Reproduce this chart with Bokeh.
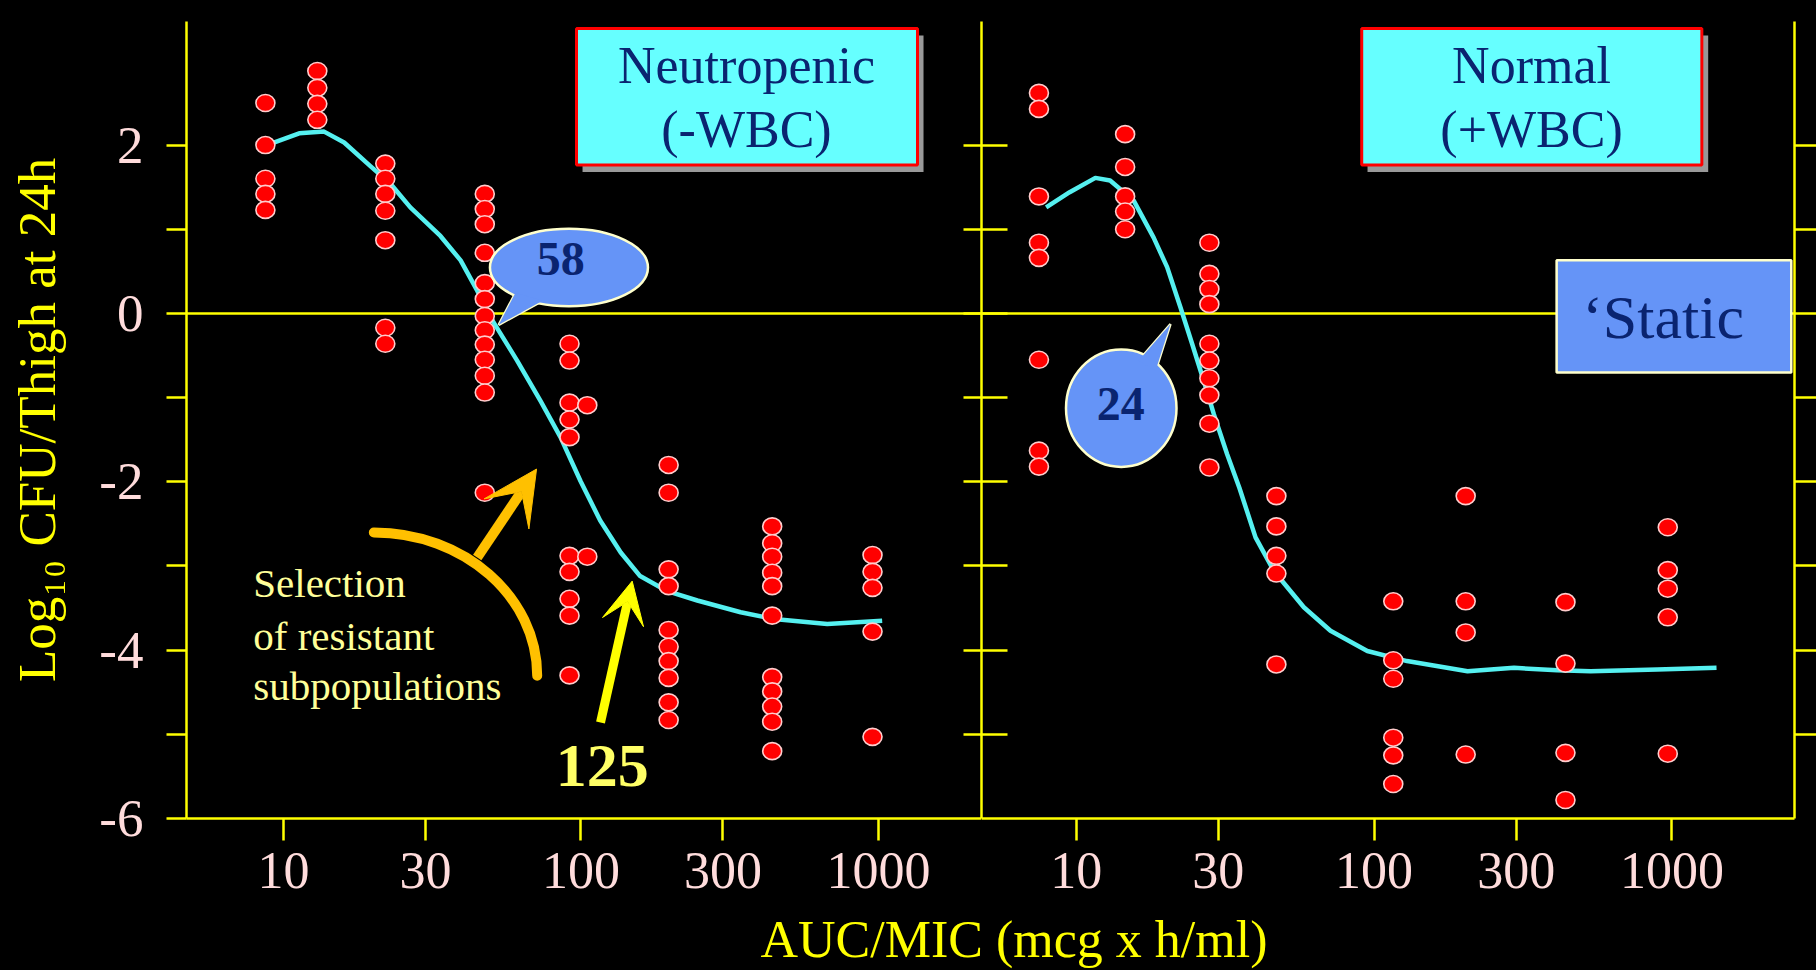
from bokeh.plotting import figure
from bokeh.layouts import column, row
from bokeh.models import Range1d, FixedTicker, LinearAxis, Span, Arrow, VeeHead
from bokeh.core.properties import value
from bokeh.embed import file_html
from bokeh.resources import INLINE

SERIF = "Liberation Serif"
YELLOW = "#FFFF00"
PINK = "#FFDCDC"
NAVY = "#0A2470"
CYAN_BOX = "#66FFFF"
CALLOUT = "#6594F7"
PALE = "#FFFFCC"
CURVE = "#55F0F0"
ORANGE = "#FFC000"

# ---------------- data ----------------
x_ticks = [10, 30, 100, 300, 1000]
x_tick_labels = ["10", "30", "100", "300", "1000"]
y_ticks = [-6, -4, -2, 0, 2]
y_tick_labels = ["-6", "-4", "-2", "0", "2"]
y_minor_ticks = [-5, -3, -1, 1]
y_side_ticks = [-5, -4, -3, -2, -1, 0, 1, 2]

neutro_auc_cols = [8.7, 13, 22, 47.5, 91.5, 105, 197, 439, 954]
neutro_cfu_cols = [
    [2.50, 2.00, 1.60, 1.42, 1.23],
    [2.88, 2.68, 2.49, 2.30],
    [1.78, 1.60, 1.42, 1.22, 0.87, -0.17, -0.36],
    [1.42, 1.24, 1.06, 0.72, 0.36, 0.17, -0.03, -0.20, -0.37, -0.55, -0.74, -0.94, -2.13],
    [-0.36, -0.56, -1.06, -1.26, -1.47, -2.88, -3.07, -3.39, -3.59, -4.30],
    [-1.09, -2.89],
    [-1.80, -2.13, -3.04, -3.24, -3.76, -3.96, -4.13, -4.33, -4.62, -4.83],
    [-2.53, -2.73, -2.89, -3.08, -3.24, -3.59, -4.32, -4.49, -4.67, -4.85, -5.20],
    [-2.87, -3.07, -3.26, -3.78, -5.03],
]
normal_auc_cols = [7.5, 14.6, 28, 47, 116, 203, 439, 968]
normal_cfu_cols = [
    [2.62, 2.43, 1.39, 0.84, 0.66, -0.55, -1.63, -1.82],
    [2.13, 1.74, 1.39, 1.21, 1.00],
    [0.84, 0.47, 0.29, 0.11, -0.36, -0.56, -0.77, -0.97, -1.31, -1.83],
    [-2.17, -2.53, -2.88, -3.09, -4.17],
    [-3.42, -4.12, -4.34, -5.04, -5.25, -5.59],
    [-2.17, -3.42, -3.79, -5.24],
    [-3.43, -4.16, -5.22, -5.78],
    [-2.54, -3.05, -3.27, -3.61, -5.23],
]
neutro_fit_auc = [8.75, 9.28, 11.3, 13.7, 16.0, 19.6, 22.9, 26.7, 33.7, 39.4, 44.8, 50.9,
                  61.0, 73.1, 85.3, 99.6, 116, 136, 158, 195, 246, 344, 445, 672, 1028]
neutro_fit_cfu = [2.01, 2.03, 2.14, 2.16, 2.03, 1.75, 1.54, 1.26, 0.92, 0.63, 0.27, -0.11,
                  -0.56, -1.04, -1.47, -1.99, -2.46, -2.84, -3.12, -3.30, -3.41, -3.55,
                  -3.63, -3.69, -3.65]
normal_fit_auc = [7.93, 9.51, 11.6, 13.0, 15.6, 18.2, 20.2, 22.4, 24.5, 26.8, 29.0, 32.1,
                  35.3, 40.0, 46.1, 58.1, 71.4, 94.9, 129, 206, 295, 412, 533, 892, 1411]
normal_fit_cfu = [1.26, 1.44, 1.61, 1.58, 1.34, 0.90, 0.55, 0.07, -0.36, -0.80, -1.20,
                  -1.67, -2.07, -2.66, -3.06, -3.49, -3.77, -4.01, -4.13, -4.25, -4.21,
                  -4.24, -4.25, -4.23, -4.21]

neutro_x = [a for a, ys in zip(neutro_auc_cols, neutro_cfu_cols) for _ in ys]
neutro_y = [v for ys in neutro_cfu_cols for v in ys]
normal_x = [a for a, ys in zip(normal_auc_cols, normal_cfu_cols) for _ in ys]
normal_y = [v for ys in normal_cfu_cols for v in ys]

Y_RANGE = (-6, 3.468)
FIG_H = 908
FRAME_H = 797
PX_PER_UNIT = FRAME_H / (Y_RANGE[1] - Y_RANGE[0])
BASELINE_FIX = 0.35  # em, lift so the glyph baseline sits on the given y


def style(ax, tick_out=0, tick_in=0):
    ax.axis_line_color = YELLOW
    ax.axis_line_width = 2.5
    for kind in ("major", "minor"):
        setattr(ax, kind + "_tick_line_color", YELLOW)
        setattr(ax, kind + "_tick_line_width", 2.5)
        setattr(ax, kind + "_tick_out", tick_out)
        setattr(ax, kind + "_tick_in", tick_in)
    ax.major_label_text_color = PINK
    ax.major_label_text_font = SERIF
    ax.major_label_text_font_size = "52px"


def side_axis(tick_out, tick_in):
    ax = LinearAxis(ticker=FixedTicker(ticks=[], minor_ticks=y_side_ticks))
    style(ax, tick_out, tick_in)
    ax.major_label_standoff = 0
    return ax


def make_fig(width, x0, x1, left_border, right_border, yloc):
    p = figure(width=width, height=FIG_H, x_axis_type="log", title=None,
               x_range=Range1d(x0, x1), y_range=Range1d(*Y_RANGE),
               output_backend="svg", toolbar_location=None,
               background_fill_color="black", border_fill_color="black",
               outline_line_color=None, y_axis_location=yloc,
               min_border_left=left_border, min_border_right=right_border,
               min_border_top=21, min_border_bottom=FIG_H - 21 - FRAME_H)
    p.grid.visible = False
    ax = p.xaxis[0]
    ax.ticker = FixedTicker(ticks=x_ticks)
    ax.major_label_overrides = dict(zip(x_ticks, x_tick_labels))
    style(ax, 22, 0)
    ax.major_label_standoff = 12
    p.add_layout(Span(location=0, dimension="width", line_color=YELLOW,
                      line_width=2.5, level="underlay"))
    return p


def txt(p, x, y, s, size, color, bold=False, align="center"):
    y_adj = y + BASELINE_FIX * size / PX_PER_UNIT
    p.text(x=[x], y=[y_adj], text=[s], text_font=value(SERIF), text_font_size=f"{size}px",
           text_color=color, text_align=align, text_baseline="alphabetic",
           text_font_style="bold" if bold else "normal")


def callout(p, cx, cy, w, h, tail_x, tail_y, label, lx, ly):
    p.patch(tail_x, tail_y, fill_color=CALLOUT, line_color=PALE, line_width=2.5)
    p.ellipse(x=[cx], y=[cy], width=w, height=h, width_units="screen",
              height_units="screen", fill_color=CALLOUT, line_color=PALE, line_width=2.5)
    p.patch(tail_x, tail_y, fill_color=CALLOUT, line_color=None)
    txt(p, lx, ly, label, 48, NAVY, bold=True)


def dots(p, xs, ys):
    p.ellipse(x=xs, y=ys, width=19, height=17, width_units="screen",
              height_units="screen", fill_color="#FF0000", line_color="#FFCCCC",
              line_width=1.6)


# ---------------- left panel: neutropenic ----------------
p1 = make_fig(981, 4.725, 2217, 186, 0, "left")
ya = p1.yaxis[0]
ya.ticker = FixedTicker(ticks=y_ticks, minor_ticks=y_minor_ticks)
ya.major_label_overrides = dict(zip(y_ticks, y_tick_labels))
style(ya, 20, 0)
ya.major_label_text_font_size = "53px"
ya.major_label_standoff = 23
ya.axis_label = "Log\u2081\u2080 CFU/Thigh at 24h"
ya.axis_label_text_font = SERIF
ya.axis_label_text_font_size = "53px"
ya.axis_label_text_color = YELLOW
ya.axis_label_text_font_style = "normal"
ya.axis_label_standoff = 30

p1.add_layout(side_axis(0, 18), "right")

p1.line(neutro_fit_auc, neutro_fit_cfu, line_color=CURVE, line_width=4.5, line_join="round")
dots(p1, neutro_x, neutro_y)

# title box
p1.quad(left=[101.2], right=[1415.6], top=[3.302], bottom=[1.679], fill_color="#999999", line_color=None)
p1.quad(left=[96.6], right=[1351], top=[3.385], bottom=[1.762], fill_color=CYAN_BOX,
        line_color="#FF0000", line_width=3)
txt(p1, 359.8, 2.724, "Neutropenic", 52, NAVY)
txt(p1, 359.8, 1.971, "(-WBC)", 52, NAVY)

callout(p1, 91.1, 0.546, 158, 77.5, [52.9, 60.25, 74.25], [-0.135, 0.245, 0.150], "58", 85.5, 0.447)

# selection of resistant subpopulations
p1.bezier(x0=[20.13], y0=[-2.602], x1=[71.26], y1=[-4.305], cx0=[40.45], cy0=[-2.602],
          cx1=[71.26], cy1=[-3.365], line_color=ORANGE, line_width=10, line_cap="round")
p1.add_layout(Arrow(end=VeeHead(size=54, fill_color=ORANGE, line_color=ORANGE),
                    x_start=44.8, y_start=-2.90, x_end=70.9, y_end=-1.849,
                    line_color=ORANGE, line_width=10))
txt(p1, 7.92, -3.375, "Selection", 41, "#FFFF99", align="left")
txt(p1, 7.92, -4.0, "of resistant", 41, "#FFFF99", align="left")
txt(p1, 7.92, -4.602, "subpopulations", 41, "#FFFF99", align="left")

p1.add_layout(Arrow(end=VeeHead(size=42, fill_color=YELLOW, line_color=YELLOW),
                    x_start=116.3, y_start=-4.86, x_end=148.6, y_end=-3.18,
                    line_color=YELLOW, line_width=9))
txt(p1, 117.8, -5.632, "125", 62, "#FFFF66", bold=True)

# ---------------- right panel: normal ----------------
p2 = make_fig(835, 4.811, 2578, 0, 22, None)
p2.add_layout(side_axis(0, 26), "left")
p2.add_layout(side_axis(22, 0), "right")

p2.line(normal_fit_auc, normal_fit_cfu, line_color=CURVE, line_width=4.5, line_join="round")
dots(p2, normal_x, normal_y)

p2.quad(left=[95.07], right=[1323], top=[3.302], bottom=[1.679], fill_color="#999999", line_color=None)
p2.quad(left=[90.9], right=[1259.6], top=[3.385], bottom=[1.762], fill_color=CYAN_BOX,
        line_color="#FF0000", line_width=3)
txt(p2, 337.7, 2.724, "Normal", 52, NAVY)
txt(p2, 337.7, 1.971, "(+WBC)", 52, NAVY)

p2.quad(left=[410], right=[2515], top=[0.633], bottom=[-0.702], fill_color=CALLOUT,
        line_color=PALE, line_width=2.5)
txt(p2, 933.9, -0.305, "\u2018Static", 62, NAVY)

callout(p2, 14.17, -1.125, 110.5, 117.5, [20.73, 16.19, 18.47], [-0.127, -0.563, -0.682], "24", 14.12, -1.276)

# ---------------- shared x title ----------------
TITLE_H = 970 - FIG_H
p3 = figure(width=1816, height=TITLE_H, x_range=Range1d(0, 1816), y_range=Range1d(0, TITLE_H),
            title=None, output_backend="svg", toolbar_location=None, x_axis_location=None,
            y_axis_location=None, background_fill_color="black", border_fill_color="black",
            outline_line_color=None, min_border=0)
p3.grid.visible = False
p3.text(x=[1013.5], y=[13 + BASELINE_FIX * 52], text=["AUC/MIC (mcg x h/ml)"],
        text_font=value(SERIF), text_font_size="52px", text_color=YELLOW,
        text_align="center", text_baseline="alphabetic")

layout = column(row(p1, p2), p3)

html = file_html(layout, INLINE, title="AUC/MIC vs CFU")
html = html.replace("</head>",
                    "<style>html,body{background:#000;margin:0;padding:0;overflow:hidden;}</style></head>", 1)
open("out.html", "w").write(html)
